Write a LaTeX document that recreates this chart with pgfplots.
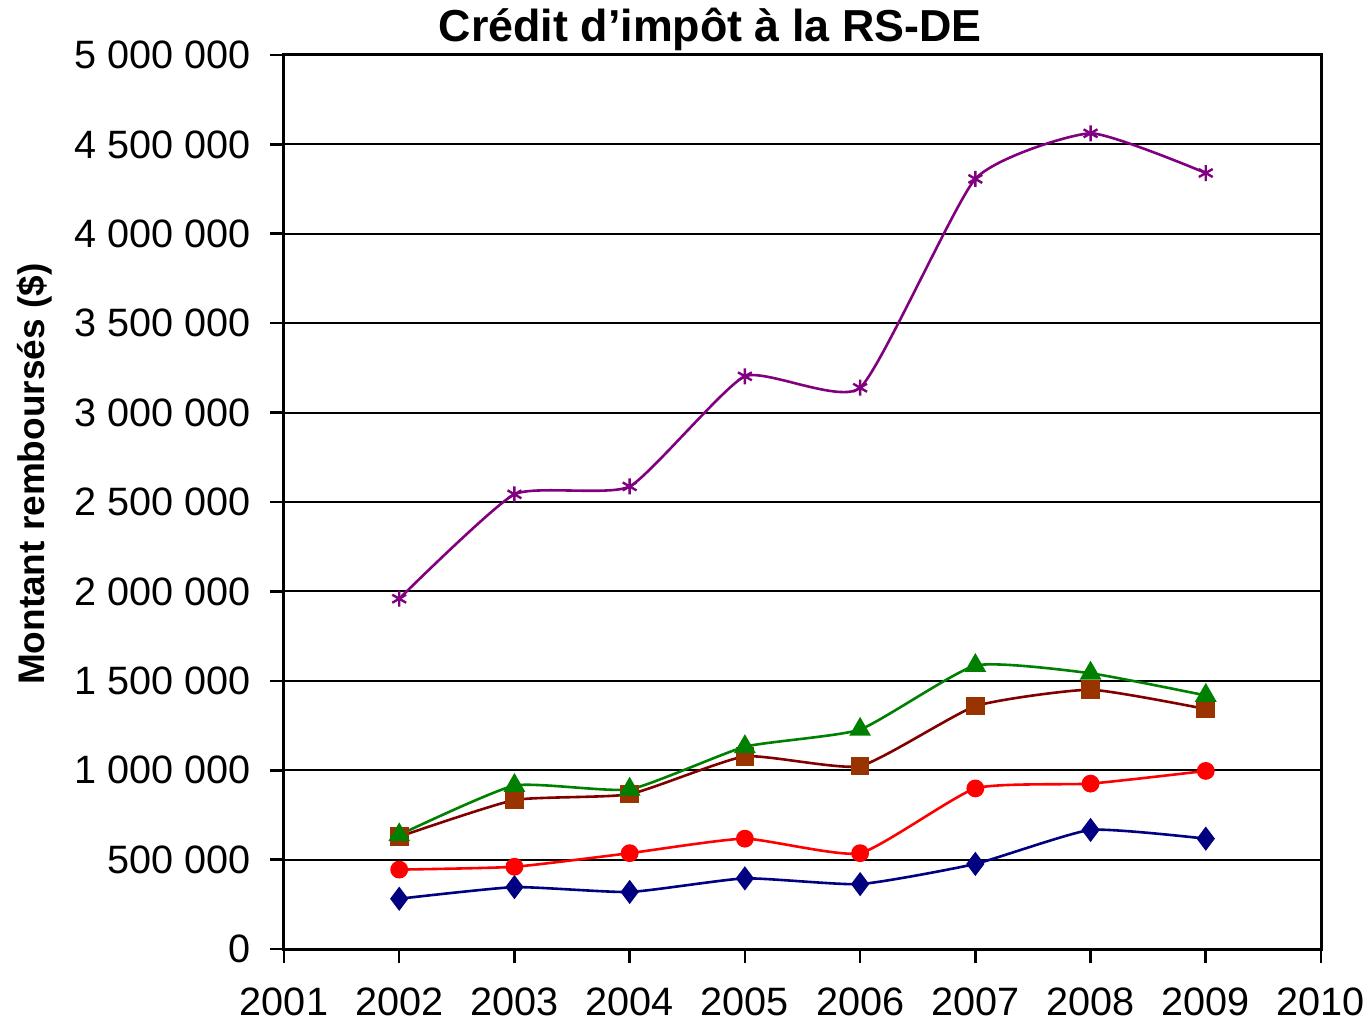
\documentclass[border=0pt]{standalone}
\usepackage{pgfplots}
\pgfplotsset{compat=1.18}
\usepackage{fontspec}
\setmainfont{Liberation Sans}
\definecolor{cnavy}{HTML}{000080}
\definecolor{cred}{HTML}{FF0000}
\definecolor{cbrownline}{HTML}{800000}
\definecolor{cbrown}{HTML}{993300}
\definecolor{cgreen}{HTML}{008000}
\definecolor{cpurple}{HTML}{800080}
\begin{document}
\begin{tikzpicture}
\begin{axis}[name=ax,
  width=518.5pt, height=447pt, scale only axis,
  xmin=2001, xmax=2010, xtick={2001,2002,...,2010},
  ymin=0, ymax=5000000, ytick={0,500000,...,5000000},
  scaled y ticks=false,
  /pgf/number format/assume math mode=true,
  ticklabel style={font=\fontsize{19.8}{23}\selectfont},
  yticklabel style={/pgf/number format/fixed, /pgf/number format/1000 sep={\ }, xshift=-6pt},
  xticklabel style={/pgf/number format/1000 sep={}, yshift=-9pt},
  tick align=outside, tick pos=left, major tick length=7pt,
  axis line style={line width=1.5pt, black},
  every tick/.style={black, line width=1.3pt},
  ymajorgrids, grid style={black, line width=1pt},
  title={Crédit d'impôt à la RS-DE},
  every axis title/.style={at={(rel axis cs:0.411,1)}, anchor=base, yshift=6.5pt, font=\bfseries\fontsize{22.4}{26}\selectfont},
  ylabel={Montant remboursés (\$)},
  every axis y label/.style={at={(rel axis cs:0,0.531)}, xshift=-124.5pt, rotate=90, anchor=center, font=\bfseries\fontsize{18.5}{22}\selectfont},
]
\addplot[color=cnavy, line width=1.3pt, smooth, tension=0.3, mark=diamond*, mark size=5pt, mark options={solid, fill=cnavy}]
coordinates {(2002,281000) (2003,346000) (2004,319000) (2005,395000) (2006,363000) (2007,476000) (2008,666000) (2009,617000)};
\addplot[color=cred, line width=1.3pt, smooth, tension=0.3, mark=*, mark size=3.8pt, mark options={solid, fill=cred}]
coordinates {(2002,444000) (2003,460000) (2004,536000) (2005,617000) (2006,536000) (2007,898000) (2008,925000) (2009,996000)};
\addplot[color=cbrownline, line width=1.3pt, smooth, tension=0.3, mark=square*, mark size=4pt, mark options={solid, fill=cbrown, draw=cbrown}]
coordinates {(2002,628000) (2003,833000) (2004,866000) (2005,1077000) (2006,1023000) (2007,1358000) (2008,1450000) (2009,1342000)};
\addplot[color=cgreen, line width=1.3pt, smooth, tension=0.3, mark=triangle*, mark size=5pt, mark options={solid, fill=cgreen}]
coordinates {(2002,638000) (2003,914000) (2004,893000) (2005,1131000) (2006,1228000) (2007,1585000) (2008,1542000) (2009,1418000)};
\addplot[color=cpurple, line width=1.3pt, smooth, tension=0.3, mark=asterisk, mark size=4pt, mark options={solid, line width=1.2pt}]
coordinates {(2002,1959000) (2003,2543000) (2004,2587000) (2005,3203000) (2006,3139000) (2007,4307000) (2008,4562000) (2009,4340000)};
\end{axis}
\pgfresetboundingbox
\path[use as bounding box] ([shift={(-142pt,-37pt)}]ax.south west) rectangle ([shift={(22pt,27.5pt)}]ax.north east);
\end{tikzpicture}
\end{document}
